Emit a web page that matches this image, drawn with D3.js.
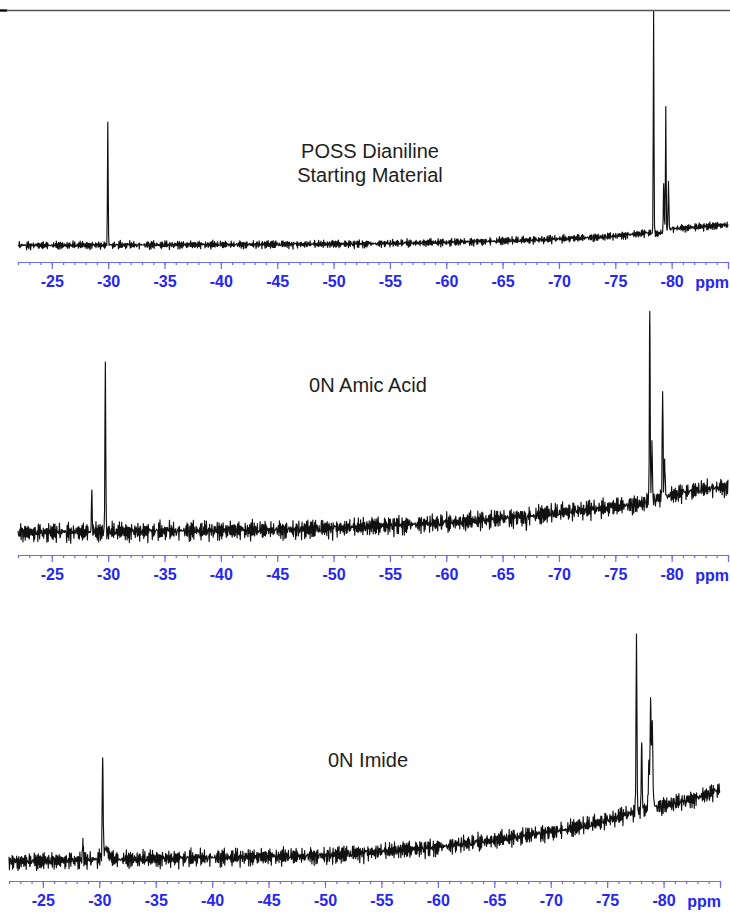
<!DOCTYPE html>
<html>
<head>
<meta charset="utf-8">
<script src="https://cdn.jsdelivr.net/npm/d3@7"></script>
<style>
  body { margin: 0; background: #fff; }
  svg { display: block; }
</style>
</head>
<body>
<script>
// ---- Data: 29Si NMR spectra (ppm, relative intensity) ----
const ppmDomain = [-22, -85];
const majorTicks = [-25, -30, -35, -40, -45, -50, -55, -60, -65, -70, -75, -80, -85];
const minorTicks = d3.range(-22, -86, -1);

const titles = [
  ["POSS Dianiline", "Starting Material"],
  ["0N Amic Acid"],
  ["0N Imide"]
];

// baseline drift: [ppm, intensity]
const baselineStart = [[-22, 0.5], [-35, 1], [-45, 1.5], [-52, 2], [-60, 3.5], [-65, 5], [-68, 6], [-74, 9], [-78, 13], [-78.8, 12], [-79.8, 17], [-85, 21]];
const baselineAmic  = [[-22, 0], [-30, 1], [-38, 2], [-47, 3], [-52.8, 6], [-61.6, 11], [-67.6, 17], [-70.5, 21], [-73.4, 24], [-77.2, 29], [-79.4, 36], [-82.3, 43], [-85, 46]];
const baselineImide = [[-22, 0], [-30, 2], [-40, 4], [-50, 6], [-53.5, 9], [-59.5, 14], [-65.3, 22], [-68.3, 27], [-71.2, 32], [-74.2, 39], [-77.2, 49], [-79.5, 55], [-83, 64], [-85, 72]];

// resonances: [ppm, height, width (ppm)]
const peaksStart = [[-29.97, 123, 0.03], [-78.4, 222, 0.03], [-79.3, 48, 0.035], [-79.48, 124, 0.03], [-79.72, 48, 0.035]];
const peaksAmic  = [[-28.55, 42, 0.035], [-29.75, 170, 0.035], [-67.1, -14, 0.03], [-78.06, 190, 0.035], [-78.25, 60, 0.04], [-79.2, 106, 0.04], [-79.38, 38, 0.04]];
const peaksImide = [[-28.55, 22, 0.035], [-30.3, 95, 0.04], [-30.55, 10, 0.3], [-77.6, 178, 0.04], [-78.06, 68, 0.04], [-78.7, 40, 0.045], [-78.85, 90, 0.04], [-78.9, 22, 0.15], [-79.0, 70, 0.045]];

// noise level of each acquisition (intensity units)
const noiseLevels = [5, 12, 11];

// recorded noise trace fragments (normalised)
const noiseA = [0.42,-0.81,0.15,0.67,-0.33,-0.92,0.58,0.08,-0.47,0.88,-0.12,0.31,-0.69,0.74,-0.05,-0.58,0.96,-0.27,0.19,-0.84,0.52,0.03,-0.39,0.71,-0.76,0.24,0.61,-0.18,-0.95,0.37,0.11,-0.63,0.83,-0.29,0.46,-0.52,0.07,0.92,-0.71,0.28,-0.14,0.55,-0.88,0.64,-0.02,-0.43,0.79,-0.36,0.21,-0.66,0.49,0.13,-0.57];
const noiseB = [-0.35,0.62,-0.08,0.91,-0.54,0.17,-0.77,0.44,0.26,-0.93,0.58,-0.21,0.73,-0.46,0.05,0.86,-0.64,0.33,-0.12,-0.81,0.69,0.14,-0.38,0.97,-0.59,0.22,-0.02,0.51,-0.87,0.4,-0.26,0.78,-0.7,0.09,0.63,-0.45,0.31,-0.99,0.56,-0.16,0.84];

const spectra = [
  { baseline: baselineStart, peaks: peaksStart, noise: noiseLevels[0], title: titles[0] },
  { baseline: baselineAmic,  peaks: peaksAmic,  noise: noiseLevels[1], title: titles[1] },
  { baseline: baselineImide, peaks: peaksImide, noise: noiseLevels[2], title: titles[2] }
];

// ---- Layout ----
const W = 730, H = 912;
const layout = [
  { x0: 18, x1: 728, axisY: 262, zeroY: 246, titleX: 370, titleY: [158, 182] },
  { x0: 18, x1: 728, axisY: 555, zeroY: 533, titleX: 368, titleY: [392] },
  { x0: 9,  x1: 720, axisY: 881, zeroY: 862, titleX: 368, titleY: [767] }
];
const axisBlue = "#6a6aff";
const labelBlue = "#2626f2";
const tickFont = "bold 16px 'Liberation Sans', Arial, sans-serif";

const svg = d3.select("body").append("svg").attr("width", W).attr("height", H);

// frame line across the top
svg.append("line").attr("x1", 0).attr("x2", W).attr("y1", 10.5).attr("y2", 10.5)
  .attr("stroke", "#555").attr("stroke-width", 1.4);
svg.append("line").attr("x1", 0).attr("x2", 7).attr("y1", 10.5).attr("y2", 10.5)
  .attr("stroke", "#000").attr("stroke-width", 2.2);

spectra.forEach((s, p) => {
  const L = layout[p];
  const x = d3.scaleLinear().domain(ppmDomain).range([L.x0, L.x1]);
  const y = d3.scaleLinear().domain([0, 100]).range([L.zeroY, L.zeroY - 100]);

  const base = d3.scaleLinear()
    .domain(s.baseline.map(d => d[0]))
    .range(s.baseline.map(d => d[1]));

  // sample grid plus exact peak centres
  const grid = d3.range(ppmDomain[0], ppmDomain[1] - 0.001, -0.04)
    .concat(s.peaks.map(d => d[0]))
    .sort((a, b) => b - a);

  const off = p * 17;
  const pts = grid.map((ppm, i) => {
    let v = base(ppm);
    s.peaks.forEach(([c, h, w]) => {
      const t = (ppm - c) / w;
      v += h * Math.exp(-0.5 * t * t);
    });
    const isCentre = s.peaks.some(d => d[0] === ppm);
    if (!isCentre) {
      v += s.noise * 0.5 * (noiseA[(i + off) % noiseA.length] + noiseB[(i + 2 * off) % noiseB.length]);
    }
    return { ppm, v };
  });

  svg.append("path")
    .datum(pts)
    .attr("fill", "none")
    .attr("stroke", "#111")
    .attr("stroke-width", 1.15)
    .attr("stroke-linejoin", "round")
    .attr("d", d3.line().x(d => x(d.ppm)).y(d => y(d.v)));

  // axis: minor ticks
  const gMinor = svg.append("g").attr("transform", `translate(0,${L.axisY})`)
    .call(d3.axisBottom(x).tickValues(minorTicks).tickSize(3).tickSizeOuter(0).tickFormat(""));
  // axis: major ticks with labels
  const gMajor = svg.append("g").attr("transform", `translate(0,${L.axisY})`)
    .call(d3.axisBottom(x).tickValues(majorTicks).tickSize(7).tickSizeOuter(0).tickPadding(7)
      .tickFormat(d => d === -85 ? "" : String(d)));

  [gMinor, gMajor].forEach(g => {
    g.select(".domain").attr("stroke", axisBlue).attr("stroke-width", 1.2);
    g.selectAll(".tick line").attr("stroke", axisBlue).attr("stroke-width", 1.2);
  });
  gMajor.selectAll(".tick text")
    .attr("fill", labelBlue)
    .style("font", tickFont);

  svg.append("text")
    .attr("x", L.x1 + 1).attr("y", L.axisY + 26)
    .attr("text-anchor", "end")
    .attr("fill", labelBlue)
    .style("font", tickFont)
    .text("ppm");

  // spectrum title
  s.title.forEach((t, k) => {
    svg.append("text")
      .attr("x", L.titleX).attr("y", L.titleY[k])
      .attr("text-anchor", "middle")
      .attr("fill", "#1e1e1e")
      .style("font", "20px 'Liberation Sans', Arial, sans-serif")
      .text(t);
  });
});
</script>
</body>
</html>
